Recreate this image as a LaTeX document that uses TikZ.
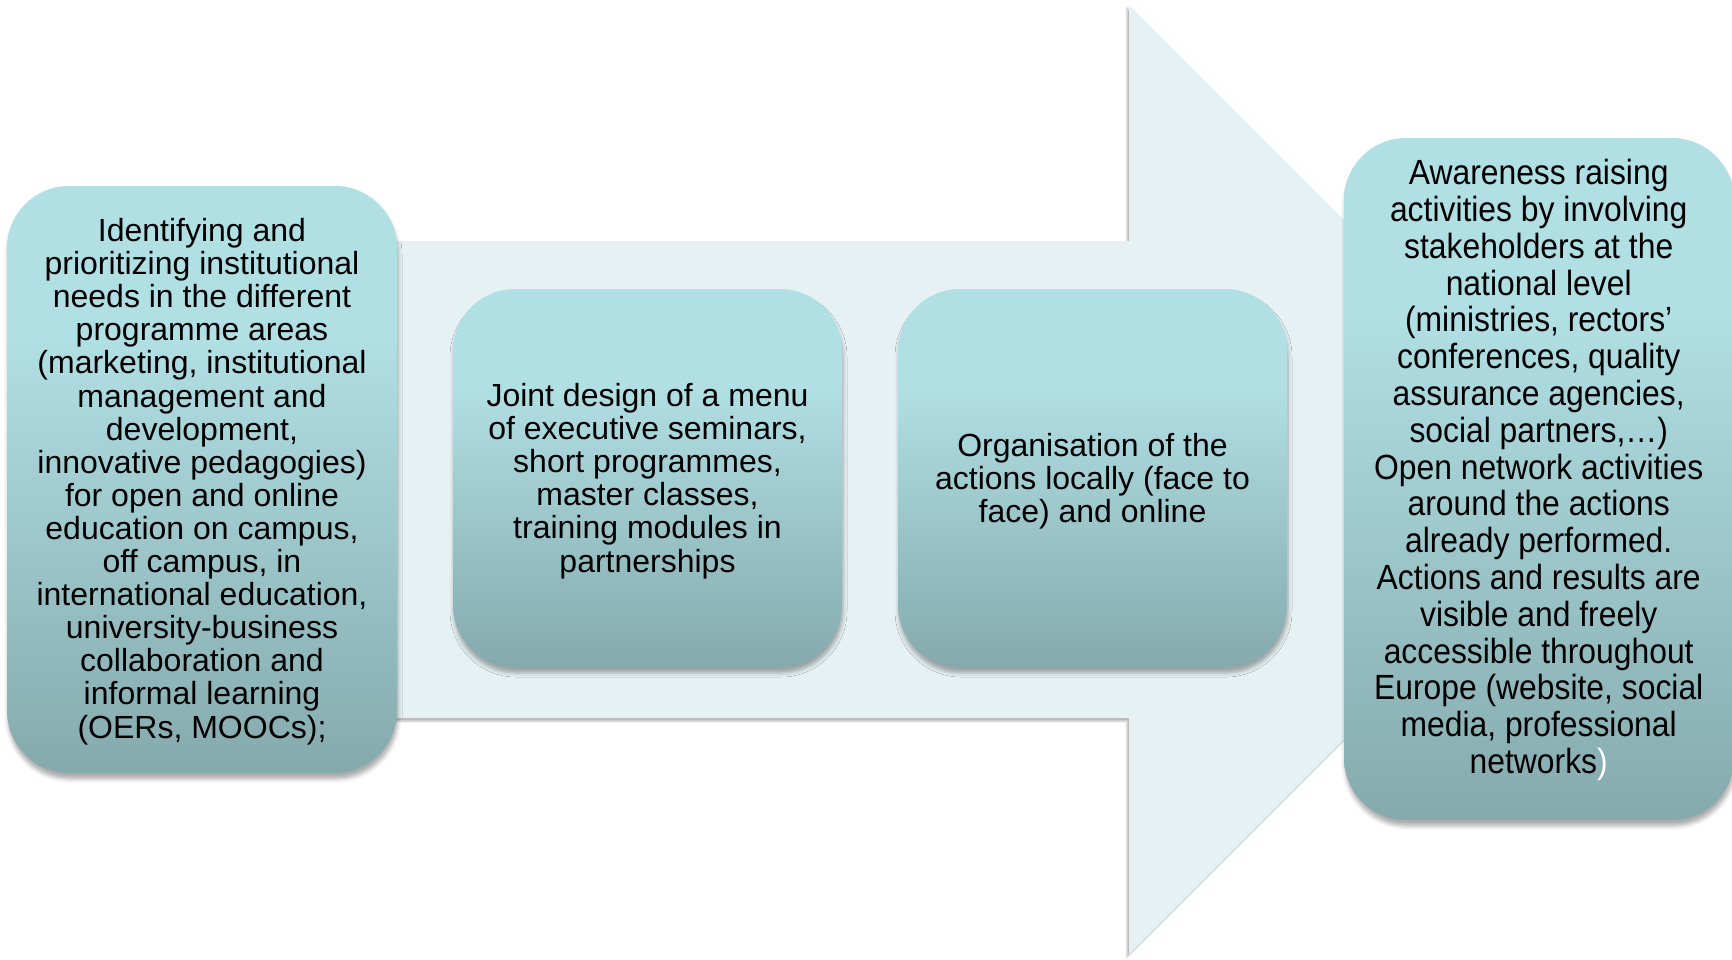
\documentclass[tikz,border=0pt]{standalone}
\usepackage{fontspec}
\setmainfont{Liberation Sans}
\newfontfamily\narrowsans[FakeStretch=0.91]{Liberation Sans}
\usetikzlibrary{shadows.blur}

\definecolor{boxtop}{RGB}{176,223,228}
\definecolor{boxbot}{RGB}{133,170,173}
\definecolor{arrowfill}{RGB}{230,241,243}

% light cyan at the top, darker teal towards the bottom
\pgfdeclareverticalshading{boxshade}{100bp}{%
  color(0bp)=(boxbot); color(25bp)=(boxbot);
  color(62bp)=(boxtop); color(100bp)=(boxtop)}

\begin{document}
\begin{tikzpicture}[x=1pt,y=-1pt,
  stepbox/.style={rectangle, rounded corners=62pt, shading=boxshade,
    draw=none, inner sep=0pt,
    blur shadow={shadow xshift=1pt, shadow yshift=-6pt,
      shadow blur radius=4pt, shadow opacity=32}},
  steptext/.style={inner sep=0pt, align=center,
    font=\fontsize{32}{33.1}\selectfont},
  narrowtext/.style={inner sep=0pt, align=center,
    font=\narrowsans\fontsize{35}{36.8}\selectfont},
  bigarrow/.style={fill=arrowfill, draw=none,
    blur shadow={shadow xshift=-2pt, shadow yshift=-3pt,
      shadow blur radius=2pt, shadow opacity=30}}]
\useasboundingbox (0,0) rectangle (1732,959);

% background block arrow
\path[bigarrow] (200,241) -- (1129,241) -- (1129,5) -- (1603.5,479.5)
  -- (1129,954) -- (1129,718) -- (200,718) -- cycle;

% step boxes
\node[stepbox, minimum width=390pt, minimum height=587pt] (needs) at (202,479.5) {};
\node[stepbox, minimum width=389pt, minimum height=378pt] (design) at (647.5,478) {};
\node[stepbox, minimum width=389pt, minimum height=378pt] (organise) at (1092.5,478) {};
\node[stepbox, minimum width=390pt, minimum height=682pt] (aware) at (1539,479) {};

% step texts
\node[steptext] (needstext) at ([yshift=-2pt]needs.center)
  {Identifying and\\
   prioritizing institutional\\
   needs in the different\\
   programme areas\\
   (marketing, institutional\\
   management and\\
   development,\\
   innovative pedagogies)\\
   for open and online\\
   education on campus,\\
   off campus, in\\
   international education,\\
   university-business\\
   collaboration and\\
   informal learning\\
   (OERs, MOOCs);};

\node[steptext] (designtext) at ([yshift=-3pt]design.center)
  {Joint design of a menu\\
   of executive seminars,\\
   short programmes,\\
   master classes,\\
   training modules in\\
   partnerships};

\node[steptext] (organisetext) at ([yshift=-3pt]organise.center)
  {Organisation of the\\
   actions locally (face to\\
   face) and online};

\node[narrowtext] (awaretext) at (1538.7,470)
  {Awareness raising\\
   activities by involving\\
   stakeholders at the\\
   national level\\
   (ministries, rectors’\\
   conferences, quality\\
   assurance agencies,\\
   social partners,…)\\
   Open network activities\\
   around the actions\\
   already performed.\\
   Actions and results are\\
   visible and freely\\
   accessible throughout\\
   Europe (website, social\\
   media, professional\\
   networks\textcolor{white}{)}};
\end{tikzpicture}
\end{document}
